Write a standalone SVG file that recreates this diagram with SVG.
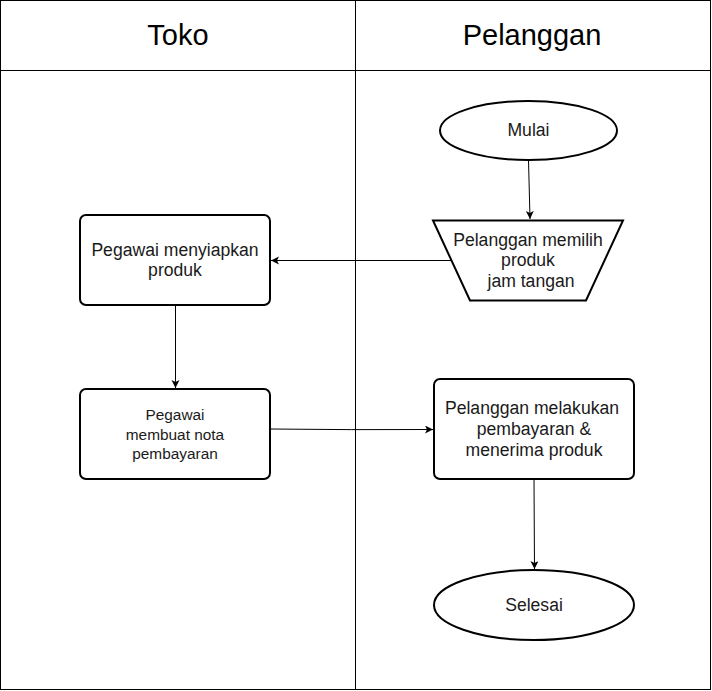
<svg xmlns="http://www.w3.org/2000/svg" width="712" height="691" viewBox="0 0 712 691">
<style>
.sh{fill:#fff;stroke:#000;stroke-width:2}
.ln{fill:none;stroke:#000;stroke-width:1}
.t{font-family:"Liberation Sans",Arial,sans-serif;font-size:17.6px;fill:#1a1a1a;text-anchor:middle;dominant-baseline:central}
.s{font-size:15.4px}
.h{font-size:29px;fill:#000}
</style>
<defs>
<marker id="a" markerWidth="10" markerHeight="10" refX="8" refY="4" orient="auto" markerUnits="userSpaceOnUse">
<path d="M0,0 L8,4 L0,8 L2,4 Z" fill="#000"/>
</marker>
</defs>
<rect width="712" height="691" fill="#fff"/>
<g id="pool">
<rect x="0.5" y="0.5" width="710" height="689" fill="none" stroke="#000"/>
<line x1="0.5" y1="70.5" x2="710.5" y2="70.5" stroke="#000"/>
<line x1="355.5" y1="0.5" x2="355.5" y2="690" stroke="#000"/>
<text class="t h" x="178" y="35">Toko</text>
<text class="t h" x="532" y="35">Pelanggan</text>
</g>
<g id="connectors">
<path class="ln" d="M528.5,160 L530,219" marker-end="url(#a)"/>
<path class="ln" d="M452,260.5 L271,260.5" marker-end="url(#a)"/>
<path class="ln" d="M175.5,305 L175.5,388" marker-end="url(#a)"/>
<path class="ln" d="M270,429 Q352,430 433,429.5" marker-end="url(#a)"/>
<path class="ln" d="M534,479 L534.5,569" marker-end="url(#a)"/>
</g>
<g id="mulai">
<ellipse class="sh" cx="528.5" cy="130.5" rx="88.5" ry="29.5"/>
<text class="t" x="528.5" y="130">Mulai</text>
</g>
<g id="memilih">
<path class="sh" d="M433,220.5 L623,220.5 L586,300.5 L470,300.5 Z"/>
<text class="t" x="528" y="240">Pelanggan memilih</text>
<text class="t" x="528" y="260">produk</text>
<text class="t" x="531" y="281">jam tangan</text>
</g>
<g id="menyiapkan">
<rect class="sh" x="80" y="215" width="190" height="90" rx="6"/>
<text class="t" x="175" y="250">Pegawai menyiapkan</text>
<text class="t" x="175" y="270">produk</text>
</g>
<g id="nota">
<rect class="sh" x="80" y="389" width="190" height="90" rx="6"/>
<text class="t s" x="175" y="414">Pegawai</text>
<text class="t s" x="175" y="434">membuat nota</text>
<text class="t s" x="175" y="453">pembayaran</text>
</g>
<g id="pembayaran">
<rect class="sh" x="434" y="379" width="200" height="100" rx="6"/>
<text class="t" x="532" y="408">Pelanggan melakukan</text>
<text class="t" x="534" y="429">pembayaran &amp;</text>
<text class="t" x="534" y="450">menerima produk</text>
</g>
<g id="selesai">
<ellipse class="sh" cx="534" cy="605" rx="100" ry="35"/>
<text class="t" x="534" y="605">Selesai</text>
</g>
</svg>
